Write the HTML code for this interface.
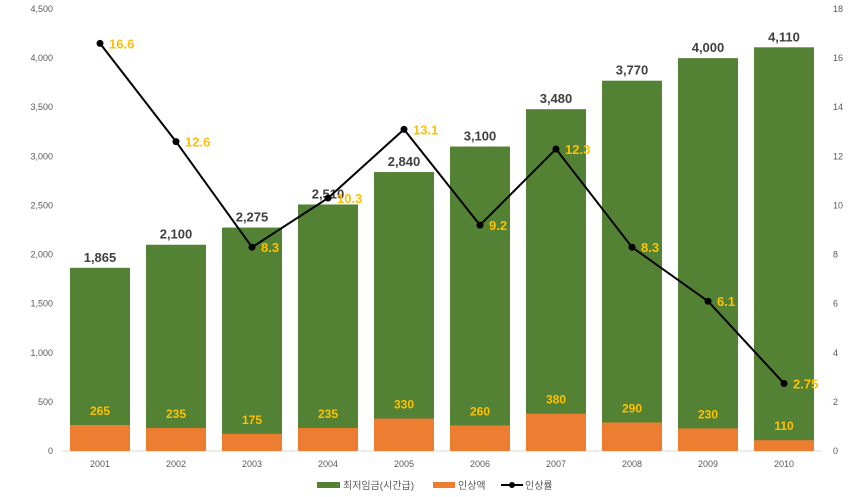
<!DOCTYPE html>
<html><head><meta charset="utf-8"><style>
body{margin:0;background:#fff;}
svg{display:block;font-family:"Liberation Sans","Noto Sans CJK KR",sans-serif;}
</style></head><body>
<svg id="c" width="867" height="497"></svg>
<script>
const years=["2001","2002","2003","2004","2005","2006","2007","2008","2009","2010"];
const wages=[1865,2100,2275,2510,2840,3100,3480,3770,4000,4110];
const increases=[265,235,175,235,330,260,380,290,230,110];
const rates=[16.6,12.6,8.3,10.3,13.1,9.2,12.3,8.3,6.1,2.75];
const rateLabels=["16.6","12.6","8.3","10.3","13.1","9.2","12.3","8.3","6.1","2.75"];
const leftTicks=[0,500,1000,1500,2000,2500,3000,3500,4000,4500];
const rightTicks=[0,2,4,6,8,10,12,14,16,18];
const NS="http://www.w3.org/2000/svg";
const svg=document.getElementById('c');
const x0=62,x1=822,yb=451,yt=9;
const step=(x1-x0)/years.length;
const xc=i=>x0+step*(i+0.5);
const yL=v=>yb-(v/4500)*(yb-yt);
const yR=v=>yb-(v/18)*(yb-yt);
function mk(t,a,txt){const e=document.createElementNS(NS,t);for(const k in a)e.setAttribute(k,a[k]);if(txt!==undefined)e.textContent=txt;svg.appendChild(e);return e;}
const fmt=v=>v.toLocaleString('en-US');
leftTicks.forEach(v=>{const e=mk('text',{x:53,y:yL(v)+3,'text-anchor':'end','font-size':9,fill:'#595959'},fmt(v));

});
rightTicks.forEach(v=>{const e=mk('text',{x:833,y:yR(v)+3,'font-size':9,fill:'#595959'},String(v));

});
const ax=mk('line',{x1:x0,x2:x1,y1:yb,y2:yb,stroke:'#d9d9d9','stroke-width':1});


const bw=60;
years.forEach((y,i)=>{
 const g=mk('rect',{x:xc(i)-bw/2,y:yL(wages[i]),width:bw,height:yb-yL(wages[i]),fill:'#548235'});
 
 
 const o=mk('rect',{x:xc(i)-bw/2,y:yL(increases[i]),width:bw,height:yb-yL(increases[i]),fill:'#ed7d31'});
 
 
 const t=mk('text',{x:xc(i),y:yL(wages[i])-6,'text-anchor':'middle','font-size':13,'font-weight':'bold',fill:'#404040'},fmt(wages[i]));
 
 
 const t2=mk('text',{x:xc(i),y:yL(increases[i])-10,'text-anchor':'middle','font-size':12,'font-weight':'bold',fill:'#ffc000'},String(increases[i]));
 
 
 const xl=mk('text',{x:xc(i),y:467,'text-anchor':'middle','font-size':9,fill:'#595959'},y);
 
 
});
const pl=mk('polyline',{points:rates.map((r,i)=>xc(i)+','+yR(r)).join(' '),fill:'none',stroke:'#000','stroke-width':2});


rates.forEach((r,i)=>{
 const c=mk('circle',{cx:xc(i),cy:yR(r),r:3.5,fill:'#000'});
 
 
 const t=mk('text',{x:xc(i)+9,y:yR(r)+5,'font-size':13,'font-weight':'bold',fill:'#ffc000'},rateLabels[i]);
 
 
});
</script>
<svg style="position:absolute;left:0;top:0" width="867" height="497" font-family="Liberation Sans, Noto Sans CJK KR, sans-serif">
<g><rect x="317" y="482" width="23" height="6" fill="#548235"/><text x="343" y="489" font-size="10" fill="#595959">최저임금(시간급)</text></g>
<g><rect x="433" y="482" width="22" height="6" fill="#ed7d31"/><text x="458" y="489" font-size="10" fill="#595959">인상액</text></g>
<g><line x1="501" y1="485" x2="523" y2="485" stroke="#000" stroke-width="2"/><circle cx="512" cy="485" r="3" fill="#000"/><text x="525" y="489" font-size="10" fill="#595959">인상률</text></g>
</svg>
</body></html>
